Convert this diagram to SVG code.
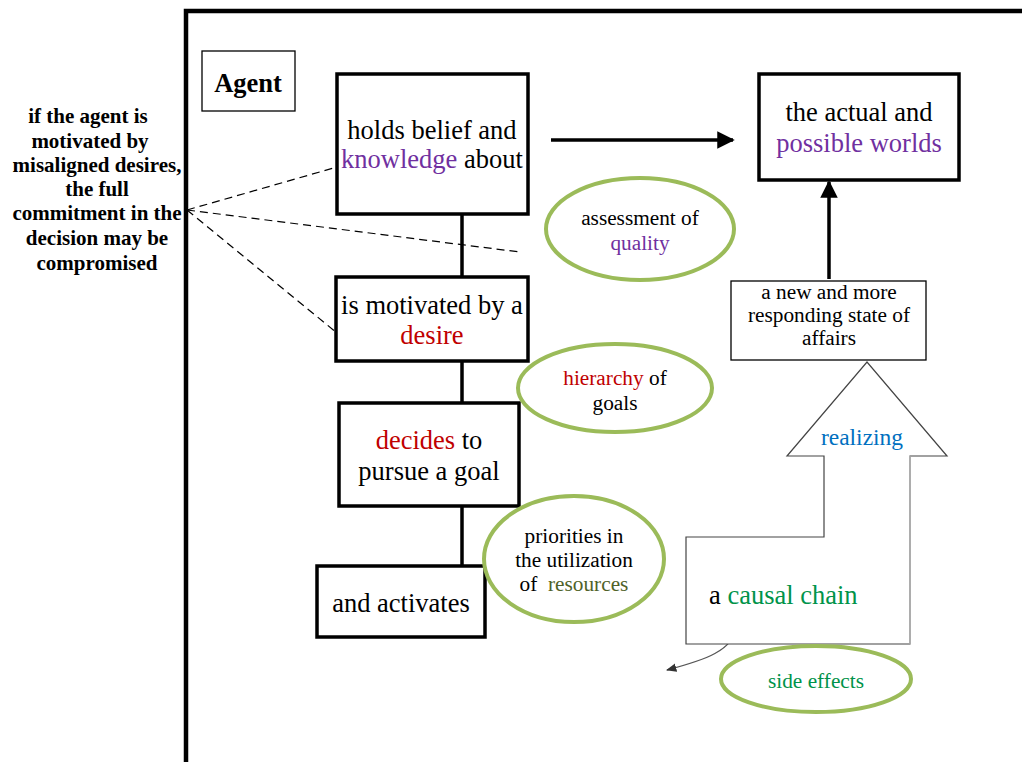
<svg xmlns="http://www.w3.org/2000/svg" width="1022" height="762" viewBox="0 0 1022 762" font-family="'Liberation Serif', 'Times New Roman', serif">
  <defs>
    <style>
      text { font-family: "Liberation Serif", "Times New Roman", serif; fill: #000; }
      .box { fill: #fff; stroke: #000; stroke-width: 3.5; }
      .thin { fill: #fff; stroke: #000; stroke-width: 1.3; }
      .oval { fill: #fff; stroke: #9BBB59; stroke-width: 4; }
      .link { stroke: #000; stroke-width: 3.5; fill: none; }
      .dash { stroke: #000; stroke-width: 1.2; stroke-dasharray: 8 5; fill: none; }
      .t26 { font-size: 26.5px; text-anchor: middle; }
      .t21 { font-size: 21.3px; text-anchor: middle; }
      .purple { fill: #7030A0; }
      .red { fill: #C00000; }
      .green { fill: #00934A; }
      .olive { fill: #4F6228; }
      .blue { fill: #0070C0; }
    </style>
    <marker id="head" viewBox="0 0 10 10" refX="9" refY="5" markerWidth="5" markerHeight="5" orient="auto" markerUnits="strokeWidth">
      <path d="M0,0 L10,5 L0,10 z" fill="#000"/>
    </marker>
    <marker id="smallhead" viewBox="0 0 10 10" refX="9" refY="5" markerWidth="8" markerHeight="8" orient="auto" markerUnits="strokeWidth">
      <path d="M0,1 L10,5 L0,9 z" fill="#333"/>
    </marker>
  </defs>

  <rect width="1022" height="762" fill="#fff"/>

  <!-- agent frame -->
  <path d="M186,762 L186,11 L1022,11" fill="none" stroke="#000" stroke-width="4.5"/>

  <!-- side note -->
  <g id="note" font-weight="bold" font-size="21" text-anchor="middle">
    <text x="88" y="123">if the agent is</text>
    <text x="90" y="148">motivated by</text>
    <text x="97" y="172">misaligned desires,</text>
    <text x="97" y="196">the full</text>
    <text x="97" y="220">commitment in the</text>
    <text x="97" y="245">decision may be</text>
    <text x="97" y="270">compromised</text>
  </g>

  <!-- connectors -->
  <g id="connectors">
    <line class="link" x1="462" y1="214" x2="462" y2="277"/>
    <line class="link" x1="462" y1="361" x2="462" y2="403"/>
    <line class="link" x1="462" y1="506" x2="462" y2="566"/>
    <line class="link" x1="551" y1="140" x2="733" y2="140" marker-end="url(#head)"/>
    <line class="link" x1="829" y1="279" x2="829" y2="182" marker-end="url(#head)"/>
    <line class="dash" x1="187" y1="210" x2="337" y2="167"/>
    <line class="dash" x1="187" y1="210" x2="520" y2="252"/>
    <line class="dash" x1="187" y1="210" x2="337" y2="333"/>
    <path d="M735,628 C734,650 705,660 667,670" fill="none" stroke="#555" stroke-width="1.3" marker-end="url(#smallhead)"/>
  </g>

  <g id="agent">
    <rect class="thin" x="202" y="51" width="93" height="60"/>
    <text x="248" y="92" font-size="26.5" font-weight="bold" text-anchor="middle">Agent</text>
  </g>

  <g id="belief">
    <rect class="box" x="337" y="74" width="191" height="140"/>
    <text class="t26" x="432" y="139">holds belief and</text>
    <text class="t26" x="432" y="168"><tspan class="purple">knowledge</tspan> about</text>
  </g>

  <g id="desire">
    <rect class="box" x="336" y="277" width="192" height="84"/>
    <text class="t26" x="432" y="314">is motivated by a</text>
    <text class="t26 red" x="432" y="344">desire</text>
  </g>

  <g id="decides">
    <rect class="box" x="339" y="403" width="180" height="103"/>
    <text class="t26" x="429" y="449"><tspan class="red">decides</tspan> to</text>
    <text class="t26" x="429" y="480">pursue a goal</text>
  </g>

  <g id="activates">
    <rect class="box" x="317" y="566" width="168" height="71"/>
    <text class="t26" x="401" y="612">and activates</text>
  </g>

  <g id="worlds">
    <rect class="box" x="759" y="74" width="200" height="106"/>
    <text class="t26" x="859" y="121">the actual and</text>
    <text class="t26 purple" x="859" y="152">possible worlds</text>
  </g>

  <g id="state">
    <rect class="thin" x="731" y="281" width="195" height="79"/>
    <text class="t21" x="829" y="299">a new and more</text>
    <text class="t21" x="829" y="322">responding state of</text>
    <text class="t21" x="829" y="345">affairs</text>
  </g>

  <g id="quality">
    <ellipse class="oval" cx="640" cy="229" rx="94" ry="51"/>
    <text class="t21" x="640" y="225">assessment of</text>
    <text class="t21 purple" x="640" y="250">quality</text>
  </g>

  <g id="hierarchy">
    <ellipse class="oval" cx="615" cy="388" rx="97" ry="44"/>
    <text class="t21" x="615" y="385"><tspan class="red">hierarchy</tspan> of</text>
    <text class="t21" x="615" y="410">goals</text>
  </g>

  <g id="priorities">
    <ellipse class="oval" cx="574" cy="559" rx="90" ry="63"/>
    <text class="t21" x="574" y="543" font-size="22.5">priorities in</text>
    <text class="t21" x="574" y="567" font-size="22.5">the utilization</text>
    <text class="t21" x="574" y="591" font-size="22.5">of &#160;<tspan class="olive">resources</tspan></text>
  </g>

  <g id="chain">
    <path d="M686,537 L824,537 L824,456 L787,456 L867,362 L947,456 L910,456 L910,644 L686,644 Z" fill="#fff" stroke="#444" stroke-width="1.2"/>
    <path d="M910,456 L910,644" fill="none" stroke="#bbb" stroke-width="1.4"/>
    <text x="862" y="445" font-size="23.5" text-anchor="middle" class="blue">realizing</text>
    <text x="709" y="604" font-size="26.5">a <tspan class="green">causal chain</tspan></text>
  </g>

  <g id="side-effects">
    <ellipse class="oval" cx="816" cy="679" rx="95" ry="33"/>
    <text class="t21 green" x="816" y="688">side effects</text>
  </g>
</svg>
